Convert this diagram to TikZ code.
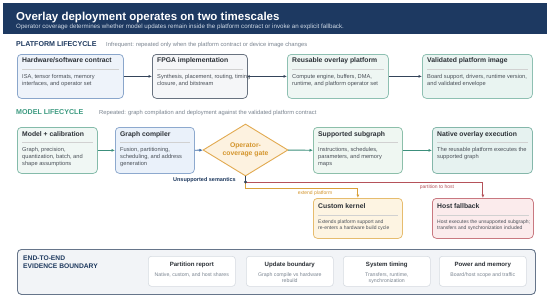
\documentclass[tikz,border=0pt]{standalone}
\usepackage{fontspec}
\setmainfont{Liberation Sans}
\usetikzlibrary{arrows.meta,shapes.geometric}
\definecolor{hdrnavy}{HTML}{1D3961}
\definecolor{subtxt}{HTML}{D0DAE6}
\definecolor{sectnavy}{HTML}{1F3A5F}
\definecolor{sectteal}{HTML}{3C9A80}
\definecolor{graytxt}{HTML}{7A8490}
\definecolor{ttltxt}{HTML}{2B3036}
\definecolor{dsctxt}{HTML}{4A5058}
\definecolor{arrnavy}{HTML}{34445A}
\definecolor{arrteal}{HTML}{3C8F7C}
\definecolor{arrblue}{HTML}{3F6DA6}
\definecolor{redln}{HTML}{B5525A}
\definecolor{orgln}{HTML}{D9A03A}
\definecolor{orgtxt}{HTML}{D4952C}
\definecolor{fHW}{HTML}{EEF3FA}\definecolor{dHW}{HTML}{8AA6CB}
\definecolor{fFP}{HTML}{F5F6F8}\definecolor{dFP}{HTML}{68727F}
\definecolor{fRO}{HTML}{EEF6F3}\definecolor{dRO}{HTML}{8EC0B2}
\definecolor{fVP}{HTML}{E9F4F1}\definecolor{dVP}{HTML}{8EC0B2}
\definecolor{fMC}{HTML}{F0F7F4}\definecolor{dMC}{HTML}{84BBAA}
\definecolor{fGC}{HTML}{EAF1FA}\definecolor{dGC}{HTML}{8DA9CE}
\definecolor{fSS}{HTML}{EFF7F2}\definecolor{dSS}{HTML}{8CBFAA}
\definecolor{fNO}{HTML}{E6F2F0}\definecolor{dNO}{HTML}{84B7AA}
\definecolor{fCK}{HTML}{FDF4E2}\definecolor{dCK}{HTML}{E6BC6E}
\definecolor{fHF}{HTML}{FBEBEC}\definecolor{dHF}{HTML}{C97880}
\definecolor{fGT}{HTML}{FDF2E0}\definecolor{dGT}{HTML}{E2AA50}
\definecolor{fEV}{HTML}{F2F4F7}\definecolor{dEV}{HTML}{66758A}
\definecolor{dEB}{HTML}{D6DBE1}
\tikzset{
  x=1pt, y=-1pt,
  card/.style={draw, rounded corners=4pt, line width=0.75pt, inner sep=0pt},
  cardtitle/.style={font=\bfseries\fontsize{6.8}{8}\selectfont, text=ttltxt, inner sep=0pt},
  carddesc/.style={font=\fontsize{5.7}{7.3}\selectfont, text=dsctxt, inner sep=0pt, align=left},
  smalldesc/.style={font=\fontsize{5.0}{5.9}\selectfont, text=dsctxt, inner sep=0pt, align=left},
  sepline/.style={draw=black!18, line width=0.5pt},
  arr/.style={line width=0.9pt, -{Latex[length=3.5pt,width=3pt]}},
  cHW/.style={fill=fHW, draw=dHW},
  cFP/.style={fill=fFP, draw=dFP},
  cRO/.style={fill=fRO, draw=dRO},
  cVP/.style={fill=fVP, draw=dVP},
  cMC/.style={fill=fMC, draw=dMC},
  cGC/.style={fill=fGC, draw=dGC},
  cSS/.style={fill=fSS, draw=dSS},
  cNO/.style={fill=fNO, draw=dNO},
  cCK/.style={fill=fCK, draw=dCK},
  cHF/.style={fill=fHF, draw=dHF},
  evbox/.style={draw=dEB, fill=white, rounded corners=3pt, line width=0.6pt, inner sep=0pt},
  evtitle/.style={font=\bfseries\fontsize{6.1}{7}\selectfont, text=ttltxt, inner sep=0pt},
  evdesc/.style={font=\fontsize{5.2}{5.8}\selectfont, text=graytxt, inner sep=0pt, align=center},
}
% name, x, y, w, h, style, title, desc
\newcommand\mkcard[8]{%
  \node[card,#6,minimum width=#4pt,minimum height=#5pt,anchor=north west] (#1) at (#2,#3) {};
  \node[cardtitle,anchor=base west] (#1-t) at ([xshift=5pt,yshift=-9pt]#1.north west) {#7};
  \draw[sepline] ([xshift=5pt,yshift=-15pt]#1.north west) -- ([xshift=-5pt,yshift=-15pt]#1.north east);
  \node[carddesc,anchor=north west] (#1-d) at ([xshift=5pt,yshift=-18.9pt]#1.north west) {\strut #8};
}
\newcommand\mksmallcard[8]{%
  \node[card,#6,minimum width=#4pt,minimum height=#5pt,anchor=north west] (#1) at (#2,#3) {};
  \node[cardtitle,anchor=base west] (#1-t) at ([xshift=5pt,yshift=-10.5pt]#1.north west) {#7};
  \draw[sepline] ([xshift=5pt,yshift=-17pt]#1.north west) -- ([xshift=-5pt,yshift=-17pt]#1.north east);
  \node[smalldesc,anchor=north west] (#1-d) at ([xshift=5pt,yshift=-21pt]#1.north west) {\strut #8};
}
% name, x, y, title, desc
\newcommand\mkev[5]{%
  \node[evbox,minimum width=87pt,minimum height=30pt,anchor=north west] (#1) at (#2,#3) {};
  \node[evtitle,anchor=base] (#1-t) at ([yshift=-10pt]#1.north) {#4};
  \node[evdesc,anchor=north] (#1-d) at ([yshift=-16pt]#1.north) {\strut #5};
}
\begin{document}
\begin{tikzpicture}
\path[use as bounding box, fill=white] (0,0) rectangle (550,297);
% header
\node[fill=hdrnavy, minimum width=544pt, minimum height=31pt, anchor=north west, inner sep=0pt] (hdr) at (3,3) {};
\node[anchor=base west, inner sep=0pt, text=white, font=\bfseries\fontsize{11.5}{13}\selectfont] (title) at (16,20) {Overlay deployment operates on two timescales};
\node[anchor=base west, inner sep=0pt, text=subtxt, font=\fontsize{6.2}{7}\selectfont] (subtitle) at (16,28.5) {Operator coverage determines whether model updates remain inside the platform contract or invoke an explicit fallback.};
% section labels
\node[anchor=base west, inner sep=0pt, text=sectnavy, font=\bfseries\fontsize{7.1}{8}\selectfont] (plab) at (16,46.5) {PLATFORM LIFECYCLE};
\node[anchor=base west, inner sep=0pt, text=graytxt, font=\fontsize{5.8}{7}\selectfont] (pnote) at (106,46.5) {Infrequent: repeated only when the platform contract or device image changes};
\node[anchor=base west, inner sep=0pt, text=sectteal, font=\bfseries\fontsize{7.1}{8}\selectfont] (mlab) at (16,114.5) {MODEL LIFECYCLE};
\node[anchor=base west, inner sep=0pt, text=graytxt, font=\fontsize{5.8}{7}\selectfont] (mnote) at (99,114.5) {Repeated: graph compilation and deployment against the validated platform contract};
% platform row
\mkcard{p1}{17}{54}{106}{44}{cHW}{Hardware/software contract}{ISA, tensor formats, memory\\interfaces, and operator set}
\mkcard{p2}{152}{54}{95}{44}{cFP}{FPGA implementation}{Synthesis, placement, routing, timing\\closure, and bitstream}
\mkcard{p3}{287}{54}{101}{44}{cRO}{Reusable overlay platform}{Compute engine, buffers, DMA,\\runtime, and platform operator set}
\mkcard{p4}{422}{54}{110}{44}{cVP}{Validated platform image}{Board support, drivers, runtime version,\\and validated envelope}
\draw[arr, arrnavy] (p1) -- (p2);
\draw[arr, arrnavy] (p2) -- (p3);
\draw[arr, arrnavy] (p3) -- (p4);
% model row
\mkcard{m1}{17}{127}{80}{46}{cMC}{Model + calibration}{Graph, precision,\\quantization, batch, and\\shape assumptions}
\mkcard{m2}{115}{127}{79}{46}{cGC}{Graph compiler}{Fusion, partitioning,\\scheduling, and address\\generation}
\mkcard{m3}{313}{127}{89}{46}{cSS}{Supported subgraph}{Instructions, schedules,\\parameters, and memory\\maps}
\mkcard{m4}{432}{127}{100}{46}{cNO}{Native overlay execution}{The reusable platform executes the\\supported graph}
\node[diamond, aspect=1.63, minimum width=85pt, minimum height=52pt, inner sep=0pt,
      fill=fGT, draw=dGT, line width=0.9pt,
      text=orgtxt, font=\bfseries\fontsize{6.8}{8}\selectfont, align=center] (gate) at (245.5,150) {Operator-\\coverage gate};
\draw[arr, arrteal] (m1) -- (m2);
\draw[arr, arrblue] (m2) -- (gate);
\draw[arr, arrteal] (gate) -- (m3);
\draw[arr, arrteal] (m3) -- (m4);
% fallback paths
\mksmallcard{kern}{313}{198}{89}{40}{cCK}{Custom kernel}{Extends platform support and\\re-enters a hardware build cycle}
\mksmallcard{host}{432}{198}{101}{40}{cHF}{Host fallback}{Host executes the unsupported subgraph;\\transfers and synchronization included}
\coordinate (split) at (245.5,182);
\draw[arr, orgln] (split) -- ([yshift=-6pt]split) -| (kern.north);
\draw[arr, redln] (split) -- (split -| host.north) -- (host.north);
\draw[line width=0.9pt, arrnavy] (gate.south) -- (split);
\fill[arrnavy] (split) circle (1.7pt);
\node[anchor=base east, inner sep=0pt, text=sectnavy, font=\bfseries\fontsize{5.5}{6}\selectfont] (unsup) at (236,181) {Unsupported semantics};
\node[anchor=base, inner sep=0pt, text=redln, font=\fontsize{5}{6}\selectfont] (lblhost) at (437,188.5) {partition to host};
\node[anchor=base, inner sep=0pt, text=orgtxt, font=\fontsize{5}{6}\selectfont] (lblext) at (315,194) {extend platform};
% evidence boundary
\node[draw=dEV, fill=fEV, rounded corners=4pt, line width=0.9pt,
      minimum width=518pt, minimum height=45pt, anchor=north west, inner sep=0pt] (evid) at (17,249) {};
\node[anchor=north west, inner sep=0pt, text=sectnavy, font=\bfseries\fontsize{6.7}{7.5}\selectfont, align=left] (evlab) at (23,256) {END-TO-END\\EVIDENCE BOUNDARY};
\mkev{e1}{148}{256}{Partition report}{Native, custom, and host shares}
\mkev{e2}{246}{256}{Update boundary}{Graph compile vs hardware\\rebuild}
\mkev{e3}{343}{256}{System timing}{Transfers, runtime,\\synchronization}
\mkev{e4}{439}{256}{Power and memory}{Board/host scope and traffic}
\end{tikzpicture}
\end{document}
